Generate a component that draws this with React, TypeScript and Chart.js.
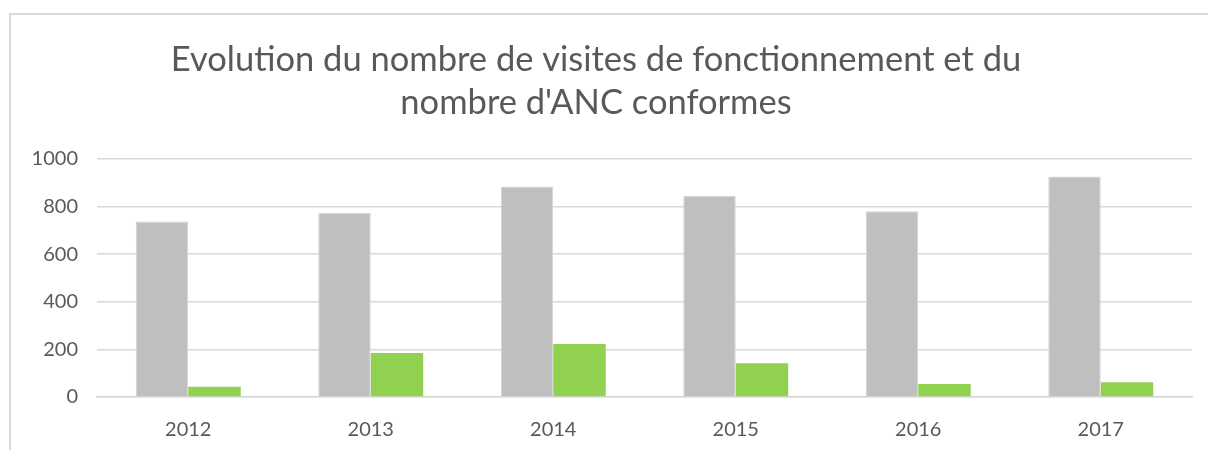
import React, { useEffect, useRef } from "react";
import { Chart, registerables } from "chart.js";

Chart.register(...registerables);

const categories = ["2012", "2013", "2014", "2015", "2016", "2017"];
const visitesFonctionnement = [737, 774, 884, 846, 780, 926];
const ancConformes = [43, 185, 223, 142, 55, 62];
const titleLines = [
  "Evolution du nombre de visites de fonctionnement et du",
  "nombre d'ANC conformes",
];

export default function App() {
  const ref = useRef<HTMLCanvasElement | null>(null);

  useEffect(() => {
    document.body.style.margin = "0";
    if (!ref.current) return;
    const chart = new Chart(ref.current, {
      type: "bar",
      data: {
        labels: categories,
        datasets: [
          {
            label: "Visites de fonctionnement",
            data: visitesFonctionnement,
            backgroundColor: "#bfbfbf",
            borderColor: "#d4d4d4",
            borderWidth: 1,
            categoryPercentage: 0.575,
            barPercentage: 1.0,
          },
          {
            label: "ANC conformes",
            data: ancConformes,
            backgroundColor: "#92d050",
            categoryPercentage: 0.575,
            barPercentage: 1.0,
          },
        ],
      },
      options: {
        animation: false,
        responsive: false,
        maintainAspectRatio: false,
        layout: { padding: { left: 0, right: 16, top: 0, bottom: 0 } },
        plugins: {
          legend: { display: false },
          tooltip: { enabled: false },
          title: {
            display: true,
            text: titleLines,
            color: "#595959",
            font: { family: "Lato", size: 34.5, weight: "normal", lineHeight: 1.246 },
            padding: { top: 38, bottom: 35 },
          },
        },
        scales: {
          x: {
            grid: { display: false, drawTicks: false },
            border: { display: true, color: "#d9d9d9", width: 1.5 },
            ticks: {
              color: "#595959",
              font: { family: "Lato", size: 20 },
              padding: 21,
            },
            afterFit: (s: any) => {
              s.height = 53;
            },
          },
          y: {
            min: 0,
            max: 1000,
            grid: { color: "#d9d9d9", lineWidth: 1.5, drawTicks: false },
            border: { display: false },
            ticks: {
              stepSize: 200,
              color: "#595959",
              font: { family: "Lato", size: 20 },
              padding: 19,
              callback: (v: any) => String(v),
            },
            afterFit: (s: any) => {
              s.width = 97;
            },
          },
        },
      },
    });
    return () => chart.destroy();
  }, []);

  return (
    <div style={{ position: "relative", width: 1208, height: 450, overflow: "hidden", background: "#fff" }}>
      <div
        style={{
          position: "absolute",
          left: 9,
          top: 13,
          width: 1300,
          height: 500,
          borderLeft: "2px solid #d9d9d9",
          borderTop: "2px solid #d9d9d9",
        }}
      />
      <canvas ref={ref} width={1208} height={450} style={{ position: "absolute", left: 0, top: 0 }} />
    </div>
  );
}
